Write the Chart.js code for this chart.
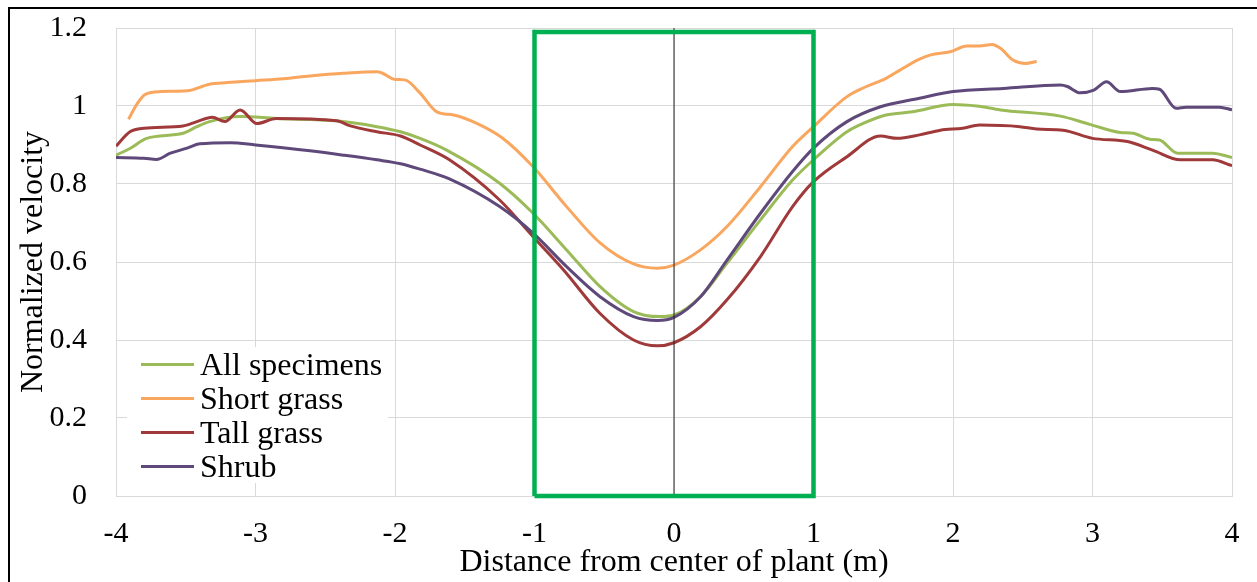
<!DOCTYPE html>
<html>
<head>
<meta charset="utf-8">
<script src="https://cdn.jsdelivr.net/npm/chart.js@4.4.1/dist/chart.umd.min.js"></script>
<style>
  html,body{margin:0;padding:0;background:#fff;}
  #wrap{position:relative;width:1257px;height:582px;overflow:hidden;}
  #frame{position:absolute;left:8px;top:7px;right:-10px;bottom:-10px;border-left:2px solid #000;border-top:2px solid #000;pointer-events:none;}
  #legend{position:absolute;left:127px;top:347px;width:261px;background:#fff;font-family:"Liberation Serif","Times New Roman",serif;font-size:32px;color:#000;}
  #legend .row{display:flex;align-items:center;height:34px;}
  #legend .swatch{width:53px;height:3px;margin-left:14px;margin-right:6px;}
</style>
</head>
<body>
<div id="wrap">
  <canvas id="chart" width="1257" height="582"></canvas>
  <div id="legend"></div>
  <div id="frame"></div>
</div>
<script>
// values
const seriesNames = ["All specimens","Short grass","Tall grass","Shrub"];
const seriesColors = ["#9bbb59","#f9a65f","#a03a3a","#5f497a"];

const allX = [-4.0,-3.90,-3.78,-3.52,-3.42,-3.33,-3.11,-2.85,-2.42,-2.13,-1.96,-1.82,-1.63,-1.25,-1.01,-0.77,-0.53,-0.29,-0.10,0.0,0.19,0.38,0.62,0.85,1.0,1.24,1.36,1.52,1.71,2.0,2.17,2.34,2.77,2.98,3.20,3.29,3.41,3.48,3.61,3.86,4.0];
const allY = [0.874,0.891,0.917,0.930,0.947,0.960,0.973,0.968,0.962,0.947,0.934,0.917,0.887,0.802,0.725,0.631,0.537,0.473,0.460,0.464,0.511,0.597,0.708,0.810,0.862,0.934,0.956,0.977,0.985,1.004,1.0,0.990,0.974,0.953,0.932,0.930,0.915,0.913,0.879,0.879,0.868];

const shortX = [-3.91,-3.85,-3.79,-3.68,-3.49,-3.33,-3.2,-3.0,-2.8,-2.61,-2.37,-2.13,-2.09,-2.0,-1.93,-1.82,-1.70,-1.58,-1.41,-1.23,-1.01,-0.77,-0.53,-0.29,-0.12,0.0,0.19,0.38,0.62,0.85,1.0,1.24,1.38,1.52,1.62,1.76,1.84,1.98,2.10,2.19,2.28,2.34,2.43,2.52,2.60];
const shortY = [0.966,1.005,1.030,1.037,1.039,1.056,1.060,1.065,1.070,1.077,1.084,1.088,1.084,1.068,1.067,1.033,0.985,0.977,0.955,0.918,0.844,0.742,0.649,0.595,0.584,0.592,0.631,0.691,0.793,0.896,0.947,1.024,1.050,1.071,1.092,1.120,1.131,1.139,1.154,1.154,1.158,1.148,1.118,1.109,1.114];

const tallX = [-4.0,-3.90,-3.80,-3.52,-3.42,-3.31,-3.22,-3.11,-2.99,-2.85,-2.42,-2.32,-2.13,-1.96,-1.82,-1.61,-1.25,-1.01,-0.79,-0.53,-0.29,-0.12,0.0,0.19,0.38,0.62,0.85,1.0,1.24,1.48,1.60,1.76,1.91,2.07,2.19,2.48,2.60,2.79,3.0,3.25,3.43,3.63,3.86,4.0];
const tallY = [0.897,0.934,0.943,0.949,0.960,0.971,0.960,0.990,0.955,0.968,0.962,0.949,0.934,0.923,0.900,0.862,0.759,0.665,0.579,0.468,0.400,0.385,0.393,0.434,0.503,0.614,0.742,0.806,0.870,0.923,0.917,0.926,0.938,0.943,0.951,0.947,0.941,0.938,0.917,0.909,0.887,0.862,0.862,0.847];

const shrubX = [-4.0,-3.80,-3.71,-3.61,-3.49,-3.40,-3.18,-3.0,-2.61,-2.37,-2.13,-1.96,-1.82,-1.61,-1.25,-1.01,-0.77,-0.53,-0.29,-0.12,0.0,0.19,0.38,0.62,0.85,1.0,1.24,1.48,1.76,2.0,2.36,2.77,2.82,2.91,3.01,3.10,3.20,3.43,3.48,3.60,3.67,3.91,4.0];
const shrubY = [0.868,0.866,0.863,0.879,0.892,0.903,0.906,0.900,0.885,0.874,0.862,0.852,0.838,0.813,0.742,0.674,0.588,0.511,0.460,0.450,0.458,0.511,0.605,0.725,0.832,0.892,0.960,0.998,1.020,1.037,1.045,1.054,1.050,1.034,1.041,1.062,1.037,1.045,1.043,0.994,0.997,0.997,0.990];

const boxX = [-1,1];          // highlighted zone around the plant
const boxTop = 1.19;
const centerX = 0;
const yTicks = [0,0.2,0.4,0.6,0.8,1,1.2];

const serif = '"Liberation Serif","Times New Roman",serif';
const pts = (xs,ys)=>xs.map((x,i)=>({x, y:ys[i]}));
const seriesX=[allX,shortX,tallX,shrubX], seriesY=[allY,shortY,tallY,shrubY];

const curveSets = seriesNames.map((n,i)=>({
  label:n, data:pts(seriesX[i],seriesY[i]), borderColor:seriesColors[i], borderWidth:3,
  cubicInterpolationMode:"monotone", pointRadius:0, fill:false, order:4-i
}));
const boxSet = {label:"box", data:[{x:boxX[0],y:0},{x:boxX[0],y:boxTop},{x:boxX[1],y:boxTop},{x:boxX[1],y:0},{x:boxX[0],y:0}],
  borderColor:"#00b050", borderWidth:4.5, tension:0, pointRadius:0, borderJoinStyle:"miter", clip:false, order:0};
const centerSet = {label:"center", data:[{x:centerX,y:0},{x:centerX,y:yTicks[yTicks.length-1]}],
  borderColor:"#222", borderWidth:1, tension:0, pointRadius:0, order:0};

new Chart(document.getElementById("chart"), {
  type:"line",
  data:{datasets:[boxSet, centerSet, ...curveSets]},
  options:{
    responsive:false, animation:false, events:[],
    layout:{padding:{left:10,right:25,top:28,bottom:0}},
    plugins:{legend:{display:false}, tooltip:{enabled:false}},
    scales:{
      x:{type:"linear", min:-4, max:4,
        ticks:{stepSize:1, autoSkip:false, maxRotation:0, padding:20, color:"#000", font:{family:serif,size:30}},
        grid:{color:"#d9d9d9", drawTicks:false}, border:{color:"#d9d9d9"},
        title:{display:true, text:"Distance from center of plant (m)", color:"#000", font:{family:serif,size:32}, padding:{top:0,bottom:0}},
        afterFit(s){ s.height = 86; s.paddingLeft = 0; s.paddingRight = 0; }},
      y:{min:0, max:1.2,
        afterBuildTicks(s){ s.ticks = yTicks.map(v=>({value:v})); },
        ticks:{padding:29, color:"#000", font:{family:serif,size:30}, callback:v=>String(+v.toFixed(1))},
        grid:{color:"#d9d9d9", drawTicks:false}, border:{display:false},
        title:{display:true, text:"Normalized velocity", color:"#000", font:{family:serif,size:32}, padding:{top:4,bottom:0}},
        afterFit(s){ s.width = 106; s.paddingTop = 0; s.paddingBottom = 0; }}
    }
  }
});

document.getElementById("legend").innerHTML = seriesNames.map((n,i)=>
  `<div class="row"><span class="swatch" style="background:${seriesColors[i]}"></span><span>${n}</span></div>`).join("");
</script>
</body>
</html>
